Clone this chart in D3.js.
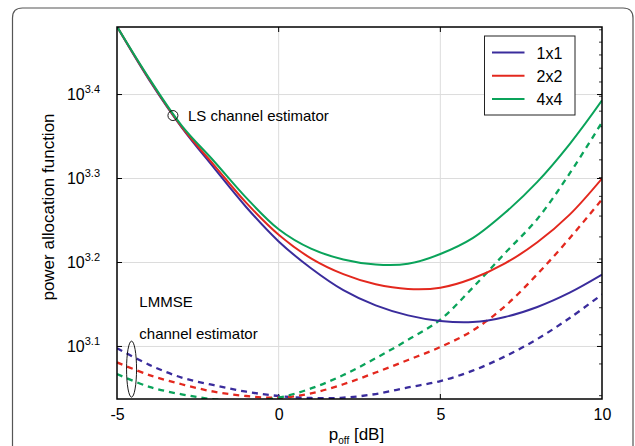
<!DOCTYPE html>
<html>
<head>
<meta charset="utf-8">
<script src="https://cdn.jsdelivr.net/npm/d3@7"></script>
<style>
  body { margin: 0; background: #fff; }
  svg { font-family: 'Liberation Sans', Arial, Helvetica, sans-serif; }
</style>
</head>
<body>
<div id="chart-area"></div>
<script>
// p_off in dB
const poff = [-5, -4, -3, -2, -1, 0, 1, 2, 3, 4, 5, 6, 7, 8, 9, 10]

// LS channel estimator (solid)
const ls1x1 = [3027, 2613, 2296, 2054, 1844, 1679, 1560, 1469, 1409, 1371, 1350, 1346, 1365, 1403, 1459, 1533]
const ls2x2 = [3027, 2618, 2299, 2070, 1866, 1710, 1603, 1535, 1493, 1474, 1479, 1517, 1581, 1675, 1807, 1995]
const ls4x4 = [3027, 2624, 2307, 2092, 1892, 1736, 1646, 1598, 1576, 1579, 1622, 1694, 1816, 1977, 2193, 2472]

// LMMSE channel estimator (dashed)
const lmmse1x1 = [1253, 1197, 1156, 1132, 1112, 1099, 1093, 1094, 1105, 1125, 1145, 1178, 1225, 1285, 1361, 1452]
const lmmse2x2 = [1205, 1164, 1135, 1112, 1099, 1094, 1107, 1135, 1172, 1213, 1257, 1315, 1406, 1535, 1694, 1884]
const lmmse4x4 = [1167, 1127, 1104, 1089, 1084, 1094, 1122, 1164, 1219, 1282, 1355, 1479, 1626, 1786, 2023, 2328]

const seriesNames = ['1x1', '2x2', '4x4']
const colors = ['#3a2c9c', '#e3281e', '#0aa35a']

const xTicks = [-5, 0, 5, 10]
const yTickExps = ['3.1', '3.2', '3.3', '3.4']

const margin = { top: 27, right: 33, bottom: 47, left: 117 }
const width = 635 - margin.left - margin.right
const height = 446 - margin.top - margin.bottom

const svg = d3.select('#chart-area')
              .append('svg')
              .attr('width', 635)
              .attr('height', 446)

// outer frame with rounded top corners
svg.append('path')
   .attr('d', 'M12.5,450 V18 Q12.5,8 22.5,8 H623 Q633,8 633,18 V450')
   .attr('fill', 'none')
   .attr('stroke', '#555')
   .attr('stroke-width', 1.2)

const g = svg.append('g')
             .attr('transform', 'translate(' + margin.left + ',' + margin.top + ')')

const x = d3.scaleLinear()
            .domain([-5, 10])
            .range([0, width])

const y = d3.scaleLog()
            .domain([1090, 3023])
            .range([height, 0])

const yTicks = yTickExps.map(e => Math.pow(10, +e))

// GRID
g.append('g')
 .selectAll('line')
 .data(xTicks.slice(1, -1))
 .enter()
 .append('line')
 .attr('x1', d => x(d)).attr('x2', d => x(d))
 .attr('y1', 0).attr('y2', height)
 .attr('stroke', '#dcdcdc')

g.append('g')
 .selectAll('line')
 .data(yTicks)
 .enter()
 .append('line')
 .attr('x1', 0).attr('x2', width)
 .attr('y1', d => y(d)).attr('y2', d => y(d))
 .attr('stroke', '#dcdcdc')

// AXES
const xAxisCall = d3.axisBottom(x).tickValues(xTicks).tickSize(0).tickPadding(10)
                    .tickFormat(d => String(d))
g.append('g')
 .attr('class', 'x-axis')
 .attr('transform', 'translate(0,' + height + ')')
 .call(xAxisCall)
 .call(a => a.select('.domain').remove())
 .selectAll('text')
   .attr('font-size', '16px')
   .attr('fill', '#000')

const yAxisCall = d3.axisLeft(y).tickValues(yTicks).tickSize(0).tickPadding(17).tickFormat('')
g.append('g')
 .attr('class', 'y-axis')
 .call(yAxisCall)
 .call(a => a.select('.domain').remove())
 .selectAll('.tick text')
   .attr('font-size', '16px')
   .attr('fill', '#000')
   .each(function (d, i) {
       const t = d3.select(this)
       t.append('tspan').text('10')
       t.append('tspan').attr('dy', -7).attr('font-size', '11px').text(yTickExps[i])
   })

// inward ticks on all four sides
const tickLen = 5
const ticks = g.append('g').attr('stroke', '#000').attr('stroke-width', 1)
xTicks.slice(1, -1).forEach(d => {
    ticks.append('line').attr('x1', x(d)).attr('x2', x(d)).attr('y1', height).attr('y2', height - tickLen)
    ticks.append('line').attr('x1', x(d)).attr('x2', x(d)).attr('y1', 0).attr('y2', tickLen)
})
yTicks.forEach(d => {
    ticks.append('line').attr('x1', 0).attr('x2', tickLen).attr('y1', y(d)).attr('y2', y(d))
    ticks.append('line').attr('x1', width).attr('x2', width - tickLen).attr('y1', y(d)).attr('y2', y(d))
})
// minor log ticks on right side
d3.range(1100, 3001, 100).forEach(d => {
    ticks.append('line').attr('x1', width).attr('x2', width - 3).attr('y1', y(d)).attr('y2', y(d))
        .attr('stroke-width', 0.8)
})

// CURVES
g.append('clipPath').attr('id', 'clip')
 .append('rect').attr('width', width).attr('height', height)

const line = d3.line()
               .x((d, i) => x(poff[i]))
               .y(d => y(d))
               .curve(d3.curveCatmullRom.alpha(0.5))

const curves = g.append('g').attr('clip-path', 'url(#clip)')

;[lmmse1x1, lmmse2x2, lmmse4x4].forEach((s, i) => {
    curves.append('path')
          .attr('d', line(s))
          .attr('fill', 'none')
          .attr('stroke', colors[i])
          .attr('stroke-width', 2.3)
          .attr('stroke-dasharray', '6,5')
})

;[ls1x1, ls2x2, ls4x4].forEach((s, i) => {
    curves.append('path')
          .attr('d', line(s))
          .attr('fill', 'none')
          .attr('stroke', colors[i])
          .attr('stroke-width', 2)
})

// plot box
g.append('rect')
 .attr('width', width)
 .attr('height', height)
 .attr('fill', 'none')
 .attr('stroke', '#000')
 .attr('stroke-width', 1.5)

// ANNOTATIONS
const lsAt = [-3.27, Math.pow(10, 3.375)]
g.append('circle')
 .attr('cx', x(lsAt[0])).attr('cy', y(lsAt[1])).attr('r', 5)
 .attr('fill', 'none').attr('stroke', '#000').attr('stroke-width', 0.9)
g.append('text')
 .attr('x', x(lsAt[0]) + 15).attr('y', y(lsAt[1]) + 5)
 .attr('font-size', '15px')
 .text('LS channel estimator')

const lmAt = [-4.55, Math.pow(10, 3.073)]
g.append('ellipse')
 .attr('cx', x(lmAt[0])).attr('cy', y(lmAt[1])).attr('rx', 5).attr('ry', 28)
 .attr('fill', 'none').attr('stroke', '#000').attr('stroke-width', 0.9)
g.append('text')
 .attr('x', x(-4.31)).attr('y', y(Math.pow(10, 3.147)))
 .attr('font-size', '15px')
 .text('LMMSE')
g.append('text')
 .attr('x', x(-4.31)).attr('y', y(Math.pow(10, 3.1087)))
 .attr('font-size', '15px')
 .text('channel estimator')

// AXIS LABELS
const xl = svg.append('text')
              .attr('x', margin.left + width / 2 - 3)
              .attr('y', 440)
              .attr('text-anchor', 'middle')
              .attr('font-size', '17px')
xl.append('tspan').text('p')
xl.append('tspan').attr('dy', 4).attr('font-size', '10px').text('off')
xl.append('tspan').attr('dy', -4).text(' [dB]')

svg.append('text')
   .attr('transform', 'translate(54,207) rotate(-90)')
   .attr('text-anchor', 'middle')
   .attr('font-size', '17px')
   .text('power allocation function')

// LEGEND
const legend = svg.append('g').attr('transform', 'translate(484.5,36)')
legend.append('rect')
      .attr('width', 90.5).attr('height', 79)
      .attr('fill', '#fff').attr('stroke', '#222').attr('stroke-width', 1)
seriesNames.forEach((name, i) => {
    const row = legend.append('g').attr('transform', 'translate(0,' + (16.5 + i * 23.2) + ')')
    row.append('line')
       .attr('x1', 7.5).attr('x2', 40)
       .attr('stroke', colors[i]).attr('stroke-width', 2)
    row.append('text')
       .attr('x', 52).attr('y', 6)
       .attr('font-size', '16px')
       .text(name)
})
</script>
</body>
</html>
